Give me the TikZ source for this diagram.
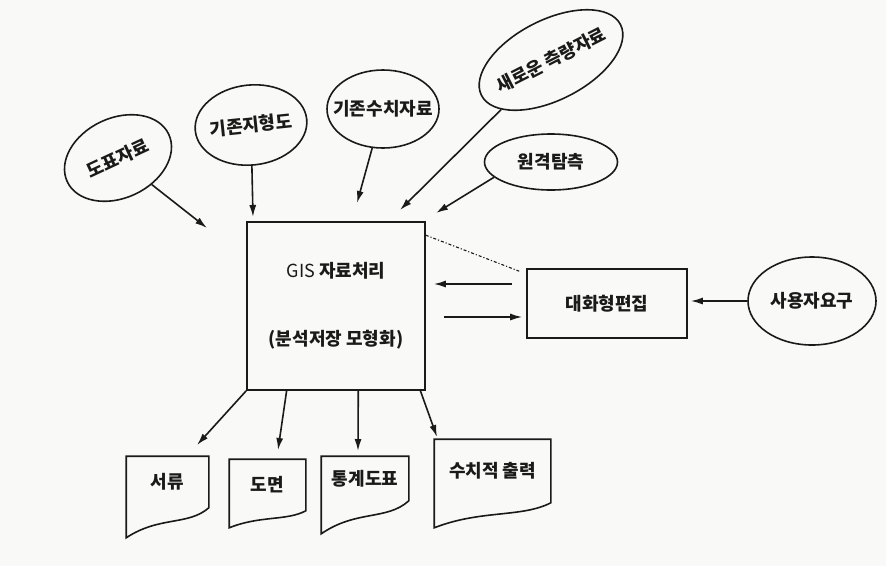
\documentclass[tikz,border=0pt]{standalone}
\usepackage{fontspec}
\setmainfont{Noto Sans CJK KR}
\usetikzlibrary{arrows.meta,positioning,calc,shapes.geometric}
\definecolor{ScanPaper}{HTML}{F9F9F7}
\definecolor{ScanInk}{HTML}{1A1A1A}

\begin{document}
\begin{tikzpicture}[x=1pt, y=1pt, line width=1.6pt, ScanInk,
    every node/.style={font=\fontsize{18}{22}\selectfont\bfseries},
    bubble/.style={draw, ellipse, inner xsep=-22pt, inner ysep=0pt},
    sheet/.style={rectangle, inner sep=0pt},
    flow/.style={-{Latex[length=12pt,width=7pt]}}]
    \fill[ScanPaper] (0,0) rectangle (886,-566);
    \useasboundingbox (0,0) rectangle (886,-566);

    % input sources
    \node[bubble, minimum width=112pt, minimum height=80pt, rotate=25] (dopyo) at (118,-158) {도표자료};
    \node[bubble, minimum width=112pt, minimum height=80pt, rotate=6] (jihyeong) at (251,-125) {기존지형도};
    \node[bubble, minimum width=112pt, minimum height=78pt] (suchija) at (383,-109) {기존수치자료};
    \node[bubble, minimum width=156pt, minimum height=80pt, rotate=27] (saeroun) at (551,-60) {새로운 측량자료};
    \node[bubble, minimum width=133pt, minimum height=56pt] (wongyeok) at (551,-162) {원격탐측};
    \node[bubble, minimum width=128pt, minimum height=88pt] (user) at (812,-301) {사용자요구};

    % processing
    \node[draw, rectangle, minimum width=178pt, minimum height=168pt, align=center] (gis) at (336,-306) {{\mdseries GIS} 자료처리\\[46pt](분석저장 모형화)};
    \node[draw, rectangle, minimum width=160pt, minimum height=69pt] (edit) at (607,-303.5) {대화형편집};

    % outputs
    \node[sheet, minimum width=81pt, minimum height=50pt] (seoryu) at (167.5,-482) {서류};
    \node[sheet, minimum width=75pt, minimum height=50pt] (domyeon) at (267.5,-485) {도면};
    \node[sheet, minimum width=86pt, minimum height=43pt] (tonggye) at (365,-478.5) {통계도표};
    \node[sheet, minimum width=115pt, minimum height=62pt] (suchichul) at (492.5,-471) {수치적 출력};
    \foreach \d/\drop in {seoryu/30, domyeon/17, tonggye/33, suchichul/25}
      \draw (\d.south east) -- (\d.north east) -- (\d.north west) -- ($(\d.south west)+(0,-\drop)$)
        .. controls ($(\d.south east)!0.6!(\d.south west)+(0,-0.27*\drop)$) and ($(\d.south east)!0.25!(\d.south west)+(0,-0.6*\drop)$) .. cycle;

    % arrow ends
    \coordinate (in-dopyo) at (207,-228);
    \coordinate (in-jihyeong) at (253,-217);
    \coordinate (in-suchija) at (357,-203);
    \coordinate (in-saeroun) at (400,-210);
    \coordinate (in-wongyeok) at (436,-213);
    \coordinate (out-seoryu) at (197,-445);
    \coordinate (out-domyeon) at (278,-450);
    \coordinate (out-tonggye) at (358,-451);
    \coordinate (out-suchichul) at (437,-437);

    \draw[flow] (dopyo) -- (in-dopyo);
    \draw[flow] (jihyeong) -- (in-jihyeong);
    \draw[flow] (suchija) -- (in-suchija);
    \draw[flow] (saeroun) -- (in-saeroun);
    \draw[flow] (wongyeok.195) -- (in-wongyeok);

    \draw[flow] (gis.south west) -- (out-seoryu);
    \draw[flow] ($(gis.south west)!0.225!(gis.south east)$) -- (out-domyeon);
    \draw[flow] ($(gis.south west)!0.624!(gis.south east)$) -- (out-tonggye);
    \draw[flow] ($(gis.south west)!0.97!(gis.south east)$) -- (out-suchichul);

    % editing loop
    \coordinate (upper) at ([yshift=19.5pt]edit.west);
    \coordinate (lower) at ([yshift=-13.5pt]edit.west);
    \draw[flow, shorten <=14pt, shorten >=8pt] (upper) -- (upper -| gis.east);
    \draw[flow, shorten <=18pt, shorten >=4pt] (lower -| gis.east) -- (lower);
    \draw[flow, shorten >=3pt] (user) -- (user -| edit.east);
    \draw[line width=1.1pt, dash dot] ([yshift=-14pt]gis.north east) -- ([xshift=-7pt,yshift=-3pt]edit.north west);
  \end{tikzpicture}
\end{document}
